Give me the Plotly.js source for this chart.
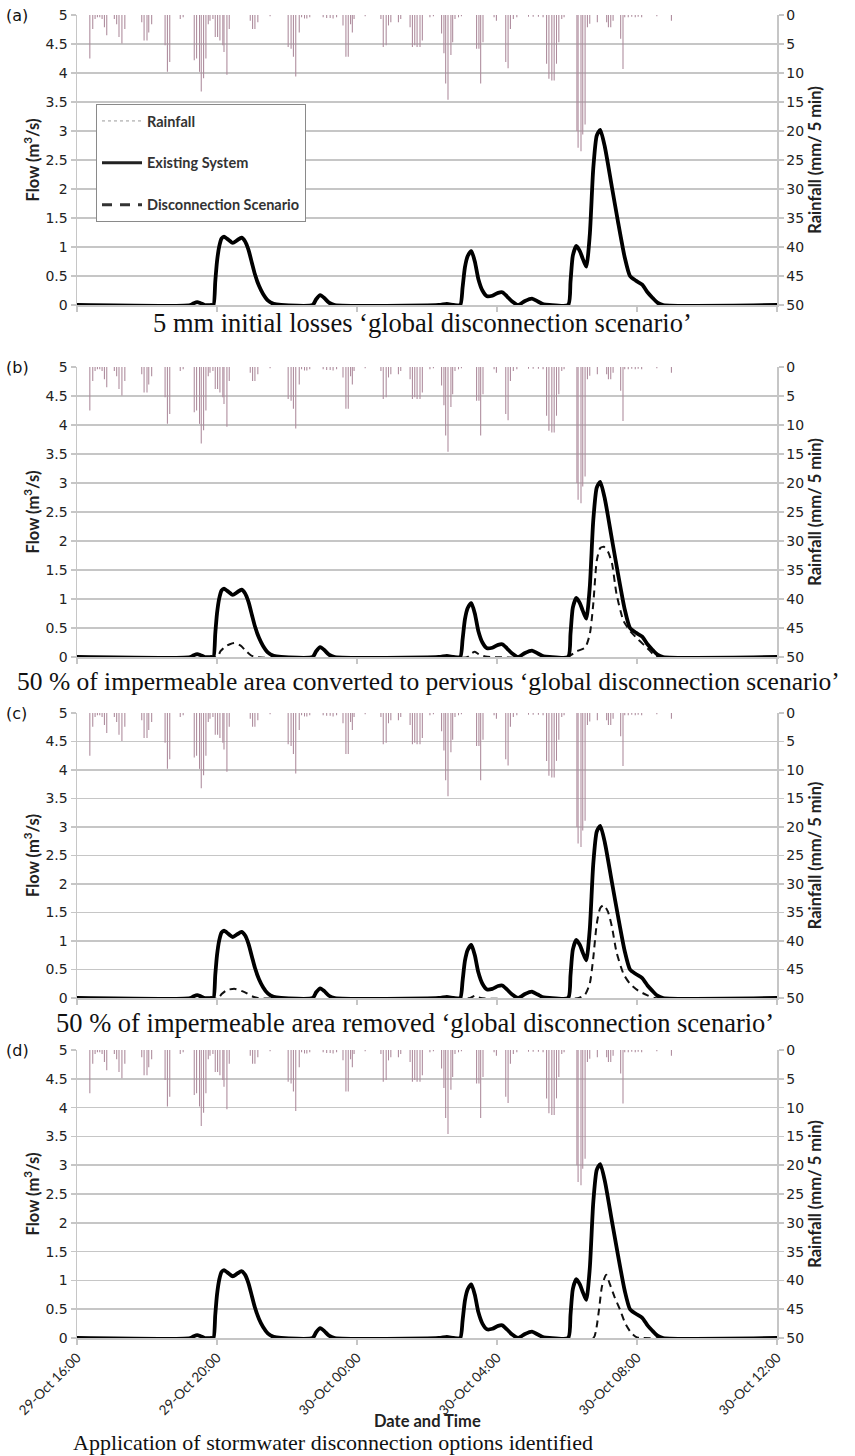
<!DOCTYPE html>
<html><head><meta charset="utf-8">
<script src="https://cdn.plot.ly/plotly-3.0.1.min.js"></script>
<style>html,body{margin:0;padding:0;background:#fff}#chart{width:855px;height:1456px}</style>
</head><body><div id="chart"></div>
<script>
// ---------- DATA ----------
const datePrefix = '2012-10-';
const rainTime = ['29 16:22','29 16:27','29 16:31','29 16:35','29 16:39','29 16:43','29 16:47','29 16:51','29 17:04','29 17:08','29 17:12','29 17:17','29 17:22','29 17:51','29 17:55','29 18:00','29 18:03','29 18:08','29 18:31','29 18:35','29 18:39','29 18:57','29 19:02','29 19:21','29 19:25','29 19:30','29 19:33','29 19:37','29 19:41','29 19:45','29 19:48','29 19:53','29 19:57','29 20:01','29 20:05','29 20:10','29 20:12','29 20:17','29 20:21','29 20:57','29 21:01','29 21:05','29 21:10','29 21:31','29 22:02','29 22:07','29 22:11','29 22:15','29 22:21','29 22:25','29 22:30','29 22:34','29 22:39','29 23:02','29 23:08','29 23:14','29 23:19','29 23:25','29 23:36','29 23:41','29 23:45','29 23:49','29 23:52','29 23:55','30 00:14','30 00:41','30 00:45','30 00:50','30 00:54','30 00:58','30 01:11','30 01:15','30 01:31','30 01:35','30 01:39','30 01:43','30 01:48','30 01:52','30 02:05','30 02:11','30 02:25','30 02:29','30 02:32','30 02:36','30 02:41','30 02:44','30 02:48','30 02:54','30 02:59','30 03:25','30 03:29','30 03:32','30 03:36','30 03:55','30 03:59','30 04:15','30 04:19','30 04:23','30 04:28','30 04:34','30 04:54','30 05:02','30 05:11','30 05:19','30 05:25','30 05:29','30 05:34','30 05:38','30 05:42','30 05:46','30 05:51','30 05:55','30 06:17','30 06:19','30 06:24','30 06:27','30 06:31','30 06:35','30 06:39','30 06:52','30 07:08','30 07:11','30 07:15','30 07:19','30 07:32','30 07:36','30 07:39','30 07:45','30 07:51','30 07:57','30 08:02','30 08:08','30 08:34','30 08:59'];
const rainMM = [7.5,2.4,0.7,0.4,0.4,0.7,2.1,3.5, 0.7,1.6,3.8,4.9,2.4, 1.25,4.4,4.4,3.0,1.6, 5.2,9.8,8.1, 0.7,0.4, 7.8,7.5,9.8,13.2,10.9,7.5,1.6,1.0,0.7,3.8,3.8,4.4,5.2,6.4,10.3,2.4, 1.0,2.4,2.4,1.25, 0.2, 5.5,5.8,7.2,10.6,3.0,0.4,0.6,0.6,0.4, 0.4,0.5,0.5,0.6,0.4, 1.8,7.2,7.2,1.6,3.0,0.7, 0.2, 0.7,5.5,5.2,1.8,1.25, 1.25,0.7, 2.1,5.5,5.2,5.5,5.5,4.4, 0.4,0.2, 3.2,6.6,11.8,14.6,6.9,4.7,0.7,0.4,0.2, 5.8,5.8,11.8,4.7, 0.4,1.0, 8.1,9.2,2.4,0.7,0.4, 0.3,0.3,0.3,0.4, 8.4,11.0,11.3,11.3,8.4,4.7,0.7,0.4, 20.0,22.9,23.5,20.6,18.9,2.1,1.5, 1.25, 1.25,2.1,2.1,1.0, 4.1,9.3,0.4,0.4,0.3,0.4,0.3,0.4, 0.2, 1.0];

// Existing system flow (m3/s)
const existTime = ['29 16:00','29 19:14','29 19:20','29 19:26','29 19:32','29 19:39','29 19:50','29 19:54','29 19:57','29 20:00','29 20:04','29 20:08','29 20:12','29 20:20','29 20:27','29 20:35','29 20:42','29 20:48','29 20:54','29 21:00','29 21:05','29 21:12','29 21:19','29 21:27','29 21:37','29 21:50','29 22:44','29 22:50','29 22:57','29 23:04','29 23:12','29 23:22','30 02:20','30 02:34','30 02:46','30 02:57','30 03:01','30 03:05','30 03:10','30 03:16','30 03:22','30 03:28','30 03:35','30 03:43','30 03:52','30 04:02','30 04:09','30 04:17','30 04:26','30 04:36','30 04:48','30 05:00','30 05:10','30 05:20','30 05:30','30 06:02','30 06:06','30 06:10','30 06:16','30 06:22','30 06:27','30 06:33','30 06:39','30 06:45','30 06:51','30 06:57','30 07:05','30 07:17','30 07:27','30 07:39','30 07:48','30 07:58','30 08:09','30 08:18','30 08:26','30 08:35','30 08:45','30 12:00'];
const existFlow = [0,0,0.03,0.05,0.03,0,0, 0,0.4,0.75,1.02,1.15,1.18, 1.12,1.07,1.12,1.16,1.1,0.95, 0.72,0.53,0.33,0.19,0.08,0.02,0, 0,0.1,0.17,0.12,0.04,0, 0,0.02,0,0,0.3,0.65,0.85,0.93, 0.75,0.45,0.25,0.15,0.16,0.21,0.22,0.15, 0.06,0,0.07,0.11,0.06,0.01,0, 0,0.4,0.85,1.02,0.93,0.8,0.66,1.2, 2.35,2.92,3.02,2.72,2.03,1.46,0.82,0.5, 0.42,0.35,0.22,0.13,0.04,0,0];

// (a) 5 mm initial losses: disconnection scenario coincides with existing system
const scenATime = existTime;
const scenAFlow = existFlow;
// (b) 50 % impermeable converted to pervious
const scenBTime = ['29 16:00','29 20:00','29 20:06','29 20:14','29 20:22','29 20:30','29 20:40','29 20:50','29 20:58','29 21:06','30 03:10','30 03:16','30 03:22','30 03:30','30 03:40','30 03:50','30 06:00','30 06:17','30 06:31','30 06:39','30 06:45','30 06:51','30 06:57','30 07:03','30 07:10','30 07:17','30 07:25','30 07:37','30 07:48','30 08:02','30 08:17','30 08:31','30 08:40','30 12:00'];
const scenBFlow = [0,0,0.1,0.18,0.22,0.24,0.2,0.1,0.03,0, 0,0.06,0.09,0.04,0.01,0, 0,0.1,0.16,0.39,0.91,1.66,1.88,1.9,1.82, 1.62,1.08,0.62,0.45,0.3,0.16,0.02,0,0];
// (c) 50 % impermeable area removed
const scenCTime = ['29 16:00','29 20:02','29 20:08','29 20:17','29 20:31','29 20:48','29 21:00','29 21:10','30 03:14','30 03:22','30 03:32','30 06:20','30 06:31','30 06:39','30 06:45','30 06:51','30 06:57','30 07:03','30 07:10','30 07:17','30 07:25','30 07:37','30 07:48','30 08:02','30 08:17','30 08:30','30 12:00'];
const scenCFlow = [0,0,0.07,0.14,0.16,0.1,0.03,0, 0,0.04,0, 0,0.06,0.25,0.7,1.3,1.58,1.63,1.52, 1.25,0.8,0.42,0.25,0.13,0.05,0,0];
// (d) stormwater disconnection options identified
const scenDTime = ['29 16:00','30 06:45','30 06:50','30 06:55','30 07:00','30 07:07','30 07:13','30 07:22','30 07:31','30 07:40','30 07:50','30 08:00','30 08:10','30 12:00'];
const scenDFlow = [0,0,0.15,0.5,0.9,1.1,0.95,0.7,0.49,0.25,0.09,0.01,0,0];

const panelLabels = ['(a)','(b)','(c)','(d)'];
const captions = [
  '5 mm initial losses ‘global disconnection scenario’',
  '50 % of impermeable area converted to pervious ‘global disconnection scenario’',
  '50 % of impermeable area removed ‘global disconnection scenario’',
  'Application of stormwater disconnection options identified'
];
const legendNames = ['Rainfall','Existing System','Disconnection Scenario'];
const xTitle = 'Date and Time';
const xStart = '29 16:00', xEnd = '30 12:00';

// ---------- LAYOUT ----------
const toDate = s => datePrefix + s;
const W = 855, H = 1456, MT = 15, MB = 118, ML = 77, MR = 78;
const PH = H - MT - MB;
const fy = py => (H - MB - py) / PH;
const fx = px => (px - ML) / (W - ML - MR);
const geo = [
  {top:15,  bot:305,  capX:422, capY:323,  capSize:26.5},
  {top:367, bot:657,  capX:428, capY:681,  capSize:25.5},
  {top:713, bot:998,  capX:415, capY:1023, capSize:26.5},
  {top:1050,bot:1338, capX:333, capY:1442, capSize:22}
];
const scen = [[scenATime,scenAFlow],[scenBTime,scenBFlow],[scenCTime,scenCFlow],[scenDTime,scenDFlow]];

const gridCol = '#c6c6c6', tickFont = {family:'DejaVu Sans', size:14, color:'#222'};
const titleFont = {family:'Lato', size:16.5, color:'#222', weight:'bold'};
const data = [];
const layout = {
  width: W, height: H, margin:{l:ML, r:MR, t:MT, b:MB, pad:0},
  paper_bgcolor:'#fff', plot_bgcolor:'#fff', showlegend:true, barmode:'overlay',
  legend:{x:fx(96), y:fy(104), xanchor:'left', yanchor:'top', bgcolor:'#fff',
          bordercolor:'#8a8a8a', borderwidth:1, itemwidth:40, tracegroupgap:20,
          traceorder:'grouped', font:{family:'Lato', size:14.5, color:'#333', weight:'bold'}},
  annotations: [], font:{family:'DejaVu Sans'}
};

geo.forEach((g,k) => {
  const xa = k===0 ? 'x' : 'x'+(k+1);
  const yf = k===0 ? 'y' : 'y'+(2*k+1);
  const yr = 'y'+(2*k+2);
  const xKey = k===0 ? 'xaxis' : 'xaxis'+(k+1);
  const yfKey = k===0 ? 'yaxis' : 'yaxis'+(2*k+1);
  const yrKey = 'yaxis'+(2*k+2);
  layout[xKey] = {
    domain:[0,1], anchor:yf, type:'date', range:[toDate(xStart), toDate(xEnd)],
    tick0:toDate(xStart), dtick:4*3600*1000, tickformat:'%d-%b %H:%M',
    ticks:'outside', ticklen:5, tickcolor:gridCol, tickwidth:1.5,
    showline:true, linecolor:gridCol, linewidth:1.5, showgrid:false, zeroline:false,
    showticklabels: k===3, tickangle:-45, tickfont:{family:'Lato', size:13.5, color:'#222'},
    automargin:false, fixedrange:true
  };
  layout[yfKey] = {
    domain:[fy(g.bot), fy(g.top)], anchor:xa, range:[0,5], dtick:0.5, tick0:0,
    showgrid:true, gridcolor:gridCol, gridwidth:1.5, zeroline:false,
    showline:true, linecolor:gridCol, linewidth:1.5, ticks:'outside', ticklen:5, tickcolor:gridCol, tickwidth:1.5,
    tickfont:tickFont, automargin:false, fixedrange:true,
    title:{text:'Flow (m<sup>3</sup>/s)', font:titleFont, standoff:1}
  };
  layout[yrKey] = {
    overlaying:yf, side:'right', anchor:xa, range:[50,0], dtick:5, tick0:0,
    showgrid:false, zeroline:false, showline:true, linecolor:gridCol, linewidth:1.5,
    ticks:'outside', ticklen:5, tickcolor:gridCol, tickwidth:1.5,
    tickfont:tickFont, automargin:false, fixedrange:true,
    title:{text:'Rainfall (mm/ 5 min)', font:titleFont, standoff:6}
  };
  // rainfall bars
  data.push({type:'bar', x:rainTime.map(toDate), y:rainMM, xaxis:xa, yaxis:yr,
    width:110000, marker:{color:'#ad8b9c', line:{width:0}}, showlegend:false, hoverinfo:'skip'});
  // disconnection scenario (dashed), then existing system (solid)
  data.push({type:'scatter', mode:'lines', x:scen[k][0].map(toDate), y:scen[k][1], xaxis:xa, yaxis:yf,
    line:{color:'#111', width:2, dash:'7px,5px', shape:'spline', smoothing:0.6}, showlegend:false, hoverinfo:'skip'});
  data.push({type:'scatter', mode:'lines', x:existTime.map(toDate), y:existFlow, xaxis:xa, yaxis:yf,
    line:{color:'#000', width:3.8, shape:'spline', smoothing:0.6}, showlegend:false, hoverinfo:'skip'});

  layout.annotations.push({xref:'paper', yref:'paper', x:fx(4), y:fy(g.top), xanchor:'left', yanchor:'middle',
    text:panelLabels[k], showarrow:false, font:{family:'DejaVu Sans', size:16, color:'#111'}});
  layout.annotations.push({xref:'paper', yref:'paper', x:fx(g.capX), y:fy(g.capY), xanchor:'center', yanchor:'middle',
    text:captions[k], showarrow:false, font:{family:'Liberation Serif', size:g.capSize, color:'#111'}});
});
layout.annotations.push({xref:'paper', yref:'paper', x:fx(427), y:fy(1421), xanchor:'center', yanchor:'middle',
  text:xTitle, showarrow:false, font:titleFont});

// legend entries (panel a)
data.push({type:'scatter', mode:'lines', x:[null], y:[null], xaxis:'x', yaxis:'y', name:legendNames[0], legendgroup:'g1',
  line:{color:'#9a9a9a', width:1, dash:'dot'}});
data.push({type:'scatter', mode:'lines', x:[null], y:[null], xaxis:'x', yaxis:'y', name:legendNames[1], legendgroup:'g2',
  line:{color:'#222', width:3}});
data.push({type:'scatter', mode:'lines', x:[null], y:[null], xaxis:'x', yaxis:'y', name:legendNames[2], legendgroup:'g3',
  line:{color:'#333', width:3, dash:'10px,8px'}});

Plotly.newPlot('chart', data, layout, {displayModeBar:false, staticPlot:true});
</script></body></html>
